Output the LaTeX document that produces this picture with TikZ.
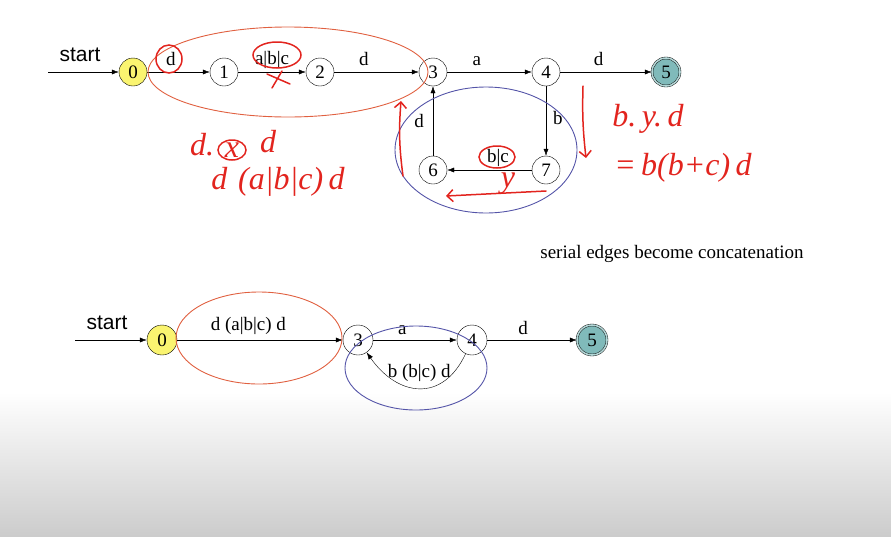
\documentclass[tikz,border=0pt]{standalone}
\usepackage{fontspec}
\setmainfont{Liberation Serif}
\newfontfamily\startfont{Liberation Sans}
\usetikzlibrary{arrows.meta}
\definecolor{penred}{RGB}{226,36,30}
\definecolor{ringred}{RGB}{224,96,64}
\definecolor{ringblue}{RGB}{84,84,168}
\definecolor{startyellow}{RGB}{250,244,112}
\definecolor{finalteal}{RGB}{128,186,186}

\begin{document}
\begin{tikzpicture}[x=1pt,y=1pt,>={Latex[length=7pt,width=5pt]},
 state/.style={draw,circle,minimum size=28pt,inner sep=0pt,fill=white,
  font=\fontsize{19}{21}\selectfont},
 startstate/.style={state,fill=startyellow},
 finalstate/.style={state,fill=finalteal,double=finalteal!60!white,double distance=1.6pt},
 lbl/.style={font=\fontsize{19}{21}\selectfont,inner sep=1pt},
 startlbl/.style={font=\startfont\fontsize{21}{23}\selectfont},
 ring/.style={line width=0.9pt},
 pen/.style={draw=penred,line width=1.5pt,line cap=round},
 hand/.style={text=penred,font=\fontsize{32}{34}\selectfont\itshape,inner sep=0pt}]
\useasboundingbox (0,0) rectangle (891,-536);
\shade[top color=white,bottom color={rgb,255:red,204;green,204;blue,204}] (0,-392) rectangle (891,-536);
% first automaton
\node[startstate] (a0) at (133,-72) {0};
\node[state] (a1) at (224,-72) {1};
\node[state] (a2) at (320,-72) {2};
\node[state] (a3) at (433,-72) {3};
\node[state] (a4) at (546,-72) {4};
\node[finalstate] (a5) at (666,-72) {5};
\node[state] (a6) at (433,-170) {6};
\node[state] (a7) at (546,-170) {7};
\node[startlbl] (st1) at (80,-55) {start};
\coordinate (in1) at (48,-72);
\draw[->] (in1) -- (a0);
\draw[->] (a0) -- node[lbl,above=5pt,pos=.38]{d} (a1);
\draw[->] (a1) -- node[lbl,above=2pt]{a|b|c} (a2);
\draw[->] (a2) -- node[lbl,above=5pt,pos=.35]{d} (a3);
\draw[->] (a3) -- node[lbl,above=5pt,pos=.35]{a} (a4);
\draw[->] (a4) -- node[lbl,above=5pt,pos=.42]{d} (a5);
\draw[->] (a4) -- node[lbl,right=6pt,pos=.45]{b} (a7);
\draw[->] (a7) -- node[lbl,above=2pt,pos=.4]{b|c} (a6);
\draw[->] (a6) -- node[lbl,left=8pt,pos=.5]{d} (a3);
\draw[ring,ringred] (288,-72) ellipse [x radius=140,y radius=45];
\draw[ring,ringblue] (486,-150) ellipse [x radius=91,y radius=63];
% pen notes
\draw[pen] (169,-59) ellipse [x radius=13,y radius=14];
\draw[pen] (277,-55) ellipse [x radius=24,y radius=13];
\draw[pen] (267,-74) -- (290,-84) (272,-88) -- (282,-71);
\draw[pen] (497,-157) ellipse [x radius=18,y radius=11];
\draw[pen,-{Straight Barb[length=6pt,width=12pt]}] (403,-176) to[bend left=6] (401,-101);
\draw[pen,-{Straight Barb[length=6pt,width=12pt]}] (583,-86) to[bend right=4] (586,-158);
\draw[pen,-{Straight Barb[length=6pt,width=12pt]}] (546,-191) -- (446,-196);
\node[hand] (y1) at (508,-184) {y};
\node[hand] (n1) at (202,-145) {d.};
\node[hand] (n2) at (232,-150) {x};
\draw[pen] (n2) ellipse [x radius=14,y radius=10];
\node[hand] (n3) at (268,-142) {d};
\node[hand] (n4) at (278,-182) {d\,\,(a|b|c)\,d};
\node[hand] (n5) at (648,-119) {b.\,y.\,d};
\node[hand] (n6) at (683,-168) {=\,b(b+c)\,d};
\node[lbl] (note) at (672,-254) {serial edges become concatenation};
% second automaton
\node[startstate,minimum size=30pt] (b0) at (162,-340) {0};
\node[state,fill=none,minimum size=30pt] (b3) at (358,-340) {3};
\node[state,fill=none,minimum size=30pt] (b4) at (472,-340) {4};
\node[finalstate,minimum size=30pt] (b5) at (592,-340) {5};
\node[startlbl] (st2) at (107,-323) {start};
\coordinate (in2) at (75,-340);
\draw[->] (in2) -- (b0);
\draw[->] (b0) -- node[lbl,above=4pt,pos=.43]{d (a|b|c) d} (b3);
\draw[->] (b3) -- node[lbl,above=4pt,pos=.35]{a} (b4);
\draw[->] (b4) -- node[lbl,above=4pt,pos=.4]{d} (b5);
\draw[->] (b4) to[out=-115,in=-55,looseness=1.4] node[lbl,above=5pt]{b (b|c) d} (b3);
\draw[ring,ringred] (259,-338) ellipse [x radius=83,y radius=46];
\draw[ring,ringblue] (416,-368) ellipse [x radius=71,y radius=42];
\end{tikzpicture}
\end{document}
